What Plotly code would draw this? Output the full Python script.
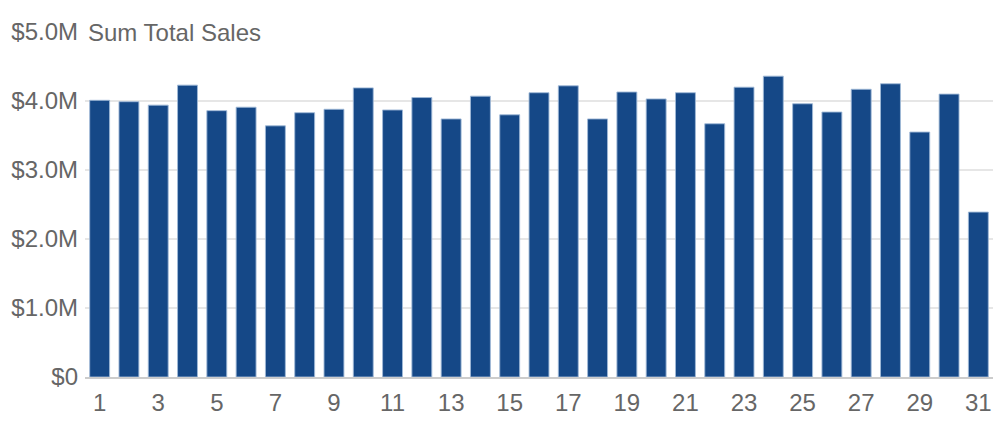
import plotly.graph_objects as go

days = list(range(1, 32))
sales = [4.01, 3.99, 3.94, 4.23, 3.86, 3.91, 3.64, 3.83, 3.88, 4.19,
         3.87, 4.05, 3.74, 4.07, 3.80, 4.12, 4.22, 3.74, 4.13, 4.03,
         4.12, 3.67, 4.20, 4.36, 3.96, 3.84, 4.17, 4.25, 3.55, 4.10, 2.39]
sales = [v * 1e6 for v in sales]

y_ticks = [0, 1e6, 2e6, 3e6, 4e6, 5e6]
y_labels = ["$0", "$1.0M", "$2.0M", "$3.0M", "$4.0M", "$5.0M"]
x_ticks = list(range(1, 32, 2))

font = "Liberation Sans, Arial, sans-serif"
grey = "#666666"

fig = go.Figure(go.Bar(
    x=days, y=sales,
    marker=dict(color="#154887", line=dict(color="rgba(160,185,215,0.9)", width=1)),
))

fig.update_layout(
    width=1000, height=430,
    margin=dict(l=85, r=7, t=32, b=53),
    plot_bgcolor="white", paper_bgcolor="white",
    bargap=0.32,
    showlegend=False,
    font=dict(family=font, size=24, color=grey),
    xaxis=dict(
        range=[0.5, 31.5],
        tickvals=x_ticks,
        showgrid=False,
        showline=True, linecolor="#cccccc", linewidth=2,
        ticks="", ticklen=0, ticklabelstandoff=3,
        tickfont=dict(size=24, color=grey),
    ),
    yaxis=dict(
        range=[0, 5e6],
        tickvals=y_ticks, ticktext=y_labels,
        showgrid=True, gridcolor="#e6e6e6", gridwidth=2,
        zeroline=False,
        ticks="", ticklen=0, ticklabelstandoff=6,
        tickfont=dict(size=24, color=grey),
    ),
    annotations=[dict(
        text="Sum Total Sales",
        xref="paper", yref="y", x=0, y=5e6,
        xanchor="left", yanchor="middle",
        showarrow=False, align="left",
        width=180,
        bgcolor="white", borderpad=2,
        font=dict(family=font, size=24, color=grey),
    )],
)

# drop the page's default body margin so the figure sits at 0,0
fig.write_html("out.html",
               config={"displayModeBar": False},
               post_script="document.body.style.margin='0';document.body.style.overflow='hidden';")
